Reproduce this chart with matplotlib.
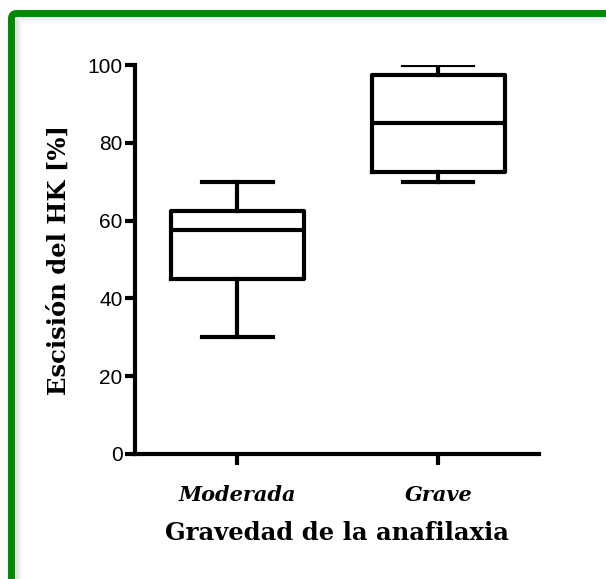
import numpy as np
import matplotlib
matplotlib.use("Agg")
import matplotlib.pyplot as plt
from matplotlib.patches import FancyBboxPatch

# box statistics (min, Q1, median, Q3, max)
groups = ["Moderada", "Grave"]
whislo = [30, 70]
q1 = [45, 72.5]
med = [57.5, 85]
q3 = [62.5, 97.5]
whishi = [70, 100]
yticks = [0, 20, 40, 60, 80, 100]

LW = 3.0
GREEN = "#008a00"
SERIF = "DejaVu Serif"

fig = plt.figure(figsize=(6.06, 5.79), dpi=100)
ax = fig.add_axes([0.2228, 0.2159, 0.6661, 0.6718])

stats = [dict(label=g, whislo=a, q1=b, med=c, q3=d, whishi=e)
         for g, a, b, c, d, e in zip(groups, whislo, q1, med, q3, whishi)]
ax.bxp(stats, positions=[1, 2], widths=0.66, capwidths=0.35, showfliers=False,
       boxprops=dict(color="black", lw=LW),
       whiskerprops=dict(color="black", lw=LW),
       capprops=dict(color="black", lw=LW),
       medianprops=dict(color="black", lw=LW))

ax.set_xlim(0.49, 2.5)
ax.set_ylim(0, 100)
for s in ("top", "right"):
    ax.spines[s].set_visible(False)
for s in ("left", "bottom"):
    ax.spines[s].set_linewidth(LW)
ax.set_yticks(yticks)
ax.set_yticklabels([str(v) for v in yticks], family="Liberation Sans", fontsize=15)
ax.set_xticks([1, 2])
ax.set_xticklabels(groups, family=SERIF, fontweight="bold",
                   style="italic", fontsize=15)
ax.tick_params(axis="y", length=7, width=LW, pad=2)
ax.tick_params(axis="x", length=8, width=LW, pad=14)
ax.set_ylabel("Escisión del HK [%]", family=SERIF, fontweight="bold",
              fontsize=17.5, labelpad=12)
ax.set_xlabel("Gravedad de la anafilaxia", family=SERIF,
              fontweight="bold", fontsize=17.5, labelpad=12)

# green frame (only top and left edges are inside the picture), with soft shadow
W, H = 606, 579
for k, a in enumerate([0.25, 0.15, 0.08]):
    fig.add_artist(FancyBboxPatch((14.5 + 2 * (k + 1), -40), 700, H + 40 - 14.5 - 2 * (k + 1),
                                  boxstyle="round,pad=0,rounding_size=4",
                                  transform=None, fill=False, ec=(0.5, 0.5, 0.5, a),
                                  lw=1.5))
fig.add_artist(FancyBboxPatch((11.5, -40), 700, H + 40 - 13.5,
                              boxstyle="round,pad=0,rounding_size=5",
                              transform=None, fill=False, ec=GREEN, lw=5))

fig.savefig("out.png", dpi=100)
